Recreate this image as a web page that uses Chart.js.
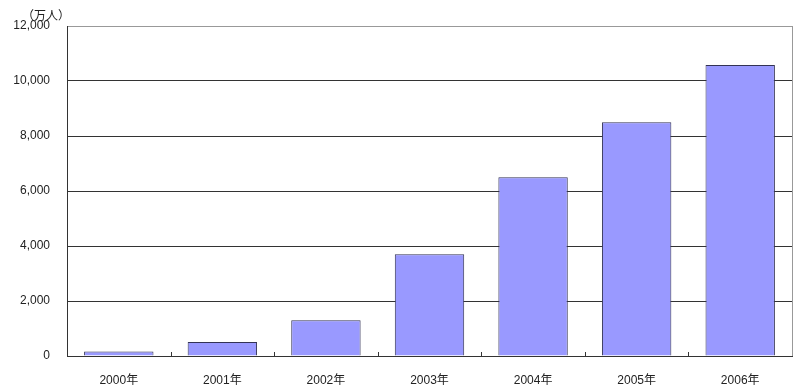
<!DOCTYPE html>
<html>
<head>
<meta charset="utf-8">
<script src="https://cdn.jsdelivr.net/npm/chart.js@4"></script>
<style>
  body { margin: 0; background: #fff; }
  #wrap { width: 800px; height: 392px; }
</style>
</head>
<body>
<div id="wrap"><canvas id="users"></canvas></div>
<script>
const years = ['2000年', '2001年', '2002年', '2003年', '2004年', '2005年', '2006年'];
const users = [160, 510, 1300, 3700, 6500, 8500, 10580];
const unitLabel = '（万人）';

const font = { family: '"Liberation Sans", "Noto Sans CJK JP", sans-serif', size: 12 };

// unit label, right border and small inward ticks between categories
const extras = {
  id: 'extras',
  afterDraw(chart) {
    const c = chart.ctx, a = chart.chartArea, x = chart.scales.x;
    c.save();
    c.strokeStyle = '#999';
    c.lineWidth = 1;
    c.beginPath();
    c.moveTo(a.right + 0.5, a.top);
    c.lineTo(a.right + 0.5, a.bottom);
    c.stroke();
    c.strokeStyle = '#333';
    c.beginPath();
    for (let i = 1; i < years.length; i++) {
      const px = Math.round((x.getPixelForValue(i - 1) + x.getPixelForValue(i)) / 2) + 0.5;
      c.moveTo(px, a.bottom);
      c.lineTo(px, a.bottom - 4);
    }
    c.stroke();
    c.fillStyle = '#222';
    c.font = '12px "Noto Sans CJK JP", sans-serif';
    c.textBaseline = 'middle';
    c.fillText(unitLabel, 22, 15);
    c.restore();
  }
};

new Chart(document.getElementById('users'), {
  type: 'bar',
  data: {
    labels: years,
    datasets: [{
      data: users,
      backgroundColor: '#9999ff',
      borderColor: '#333355',
      borderWidth: 1,
      categoryPercentage: 0.67,
      barPercentage: 1
    }]
  },
  options: {
    responsive: true,
    maintainAspectRatio: false,
    animation: false,
    layout: { padding: { top: 26, right: 8 } },
    plugins: { legend: { display: false }, tooltip: { enabled: false } },
    scales: {
      x: {
        grid: { display: false },
        border: { color: '#333', width: 1 },
        ticks: { color: '#222', font: font, padding: 9 },
        afterFit(s) { s.height = 36; }
      },
      y: {
        min: 0,
        max: 12000,
        ticks: {
          stepSize: 2000,
          color: '#222',
          font: font,
          padding: 17,
          callback: v => v.toLocaleString('en-US')
        },
        grid: {
          drawTicks: false,
          color: ctx => ctx.tick && ctx.tick.value === 12000 ? '#999' : '#333'
        },
        border: { color: '#333', width: 1 },
        afterFit(s) { s.width = 67; }
      }
    }
  },
  plugins: [extras]
});
</script>
</body>
</html>
